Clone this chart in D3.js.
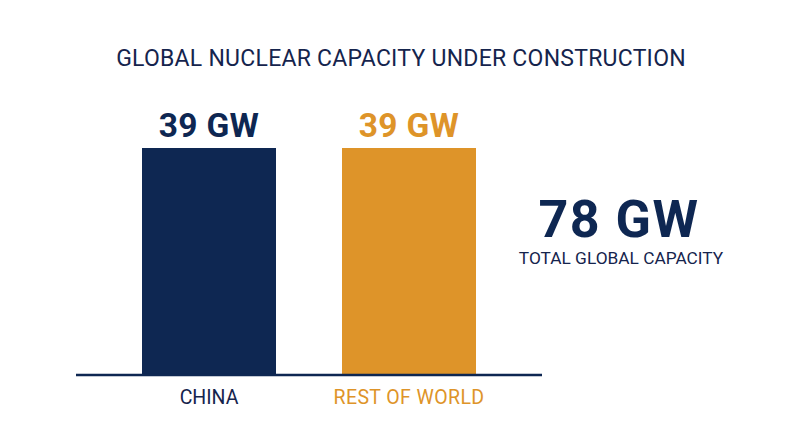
<!DOCTYPE html>
<html><head><meta charset="utf-8">
<script src="https://cdn.jsdelivr.net/npm/d3@7"></script>
<style>
html,body{margin:0;padding:0;background:#fff;}
svg{display:block;font-family:Roboto, "Liberation Sans", sans-serif;}
</style></head>
<body>
<svg id="chart" width="800" height="447"></svg>
<script>
const categories = ["CHINA", "REST OF WORLD"];
const values = [39, 39];
const valueLabels = ["39 GW", "39 GW"];
const colors = ["#0e2752", "#de9429"];
const totalLabel = "78 GW";
const totalCaption = "TOTAL GLOBAL CAPACITY";
const title = "GLOBAL NUCLEAR CAPACITY UNDER CONSTRUCTION";

const svg = d3.select("#chart");
const x = d3.scaleBand().domain(categories).range([76, 542]).paddingInner(0.33).paddingOuter(0.33);
const y = d3.scaleLinear().domain([0, 39]).range([375, 148]);

svg.append("text").attr("x", 401).attr("y", 66).attr("text-anchor", "middle")
  .attr("font-size", 23).attr("font-weight", 400).attr("letter-spacing", 0.25)
  .attr("fill", "#15244d").text(title);

svg.selectAll("rect.bar").data(categories).join("rect").attr("class", "bar")
  .attr("x", d => x(d)).attr("width", x.bandwidth())
  .attr("y", (d, i) => y(values[i])).attr("height", (d, i) => y(0) - y(values[i]))
  .attr("fill", (d, i) => colors[i]);

svg.append("line").attr("x1", 76).attr("x2", 542).attr("y1", 375).attr("y2", 375)
  .attr("stroke", "#0e2752").attr("stroke-width", 2.5);

svg.selectAll("text.val").data(categories).join("text").attr("class", "val")
  .attr("x", d => x(d) + x.bandwidth() / 2).attr("y", (d, i) => y(values[i]) - 11)
  .attr("text-anchor", "middle").attr("font-size", 33.5).attr("font-weight", 700)
  .attr("letter-spacing", 0.3)
  .attr("fill", (d, i) => colors[i]).text((d, i) => valueLabels[i]);

svg.selectAll("text.cat").data(categories).join("text").attr("class", "cat")
  .attr("x", d => x(d) + x.bandwidth() / 2).attr("y", 404)
  .attr("text-anchor", "middle").attr("font-size", 19.5).attr("font-weight", 400)
  .attr("letter-spacing", (d, i) => i === 0 ? 0 : 0.4)
  .attr("fill", (d, i) => i === 0 ? "#15244d" : colors[i]).text(d => d);

svg.append("text").attr("x", 619).attr("y", 237).attr("text-anchor", "middle")
  .attr("font-size", 52).attr("font-weight", 700).attr("letter-spacing", 1.5)
  .attr("fill", "#0e2752").text(totalLabel);
svg.append("text").attr("x", 621).attr("y", 264).attr("text-anchor", "middle")
  .attr("font-size", 17.3).attr("font-weight", 400).attr("fill", "#15244d").text(totalCaption);
</script>
</body></html>
